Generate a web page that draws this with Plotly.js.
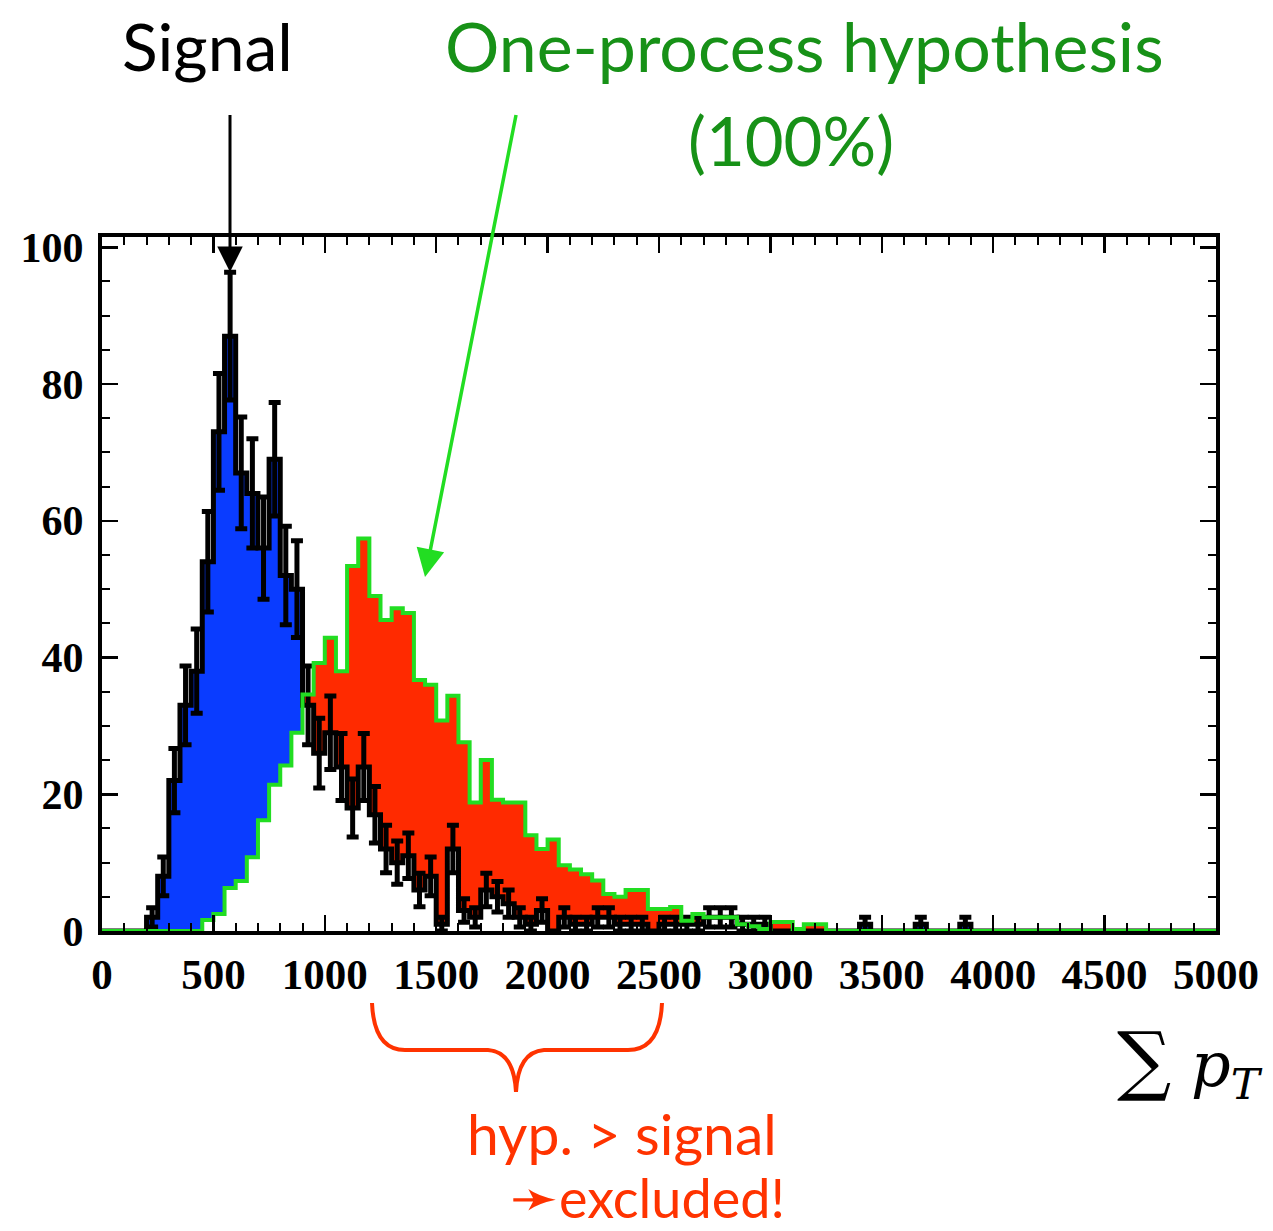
<!DOCTYPE html>
<html>
<head>
<meta charset="utf-8">
<script src="https://cdn.plot.ly/plotly-3.0.1.min.js"></script>
<style>html,body{margin:0;padding:0;background:#fff;}#chart{width:1273px;height:1231px;}</style>
</head>
<body>
<div id="chart"></div>
<script>
// Bin edges: 100 bins of width 50 from 0 to 5000
const binWidth = 50;
const nBins = 100;

// Signal histogram (black, with sqrt(N) error bars), bins 0..99
const signalCounts = [
  0, 0, 0, 0, 2, 8, 22, 33, 38, 54,
  73, 87, 67, 64, 56, 69, 52, 50, 33, 26,
  29, 24, 18, 24, 17, 12, 10, 11, 6, 8,
  1, 12, 3, 2, 6, 5, 4, 2, 1, 3,
  0, 2, 1, 1, 2, 2, 1, 1, 1, 0,
  1, 1, 1, 1, 2, 2, 2, 1, 1, 1,
  0, 0, 0, 0, 0, 0, 0, 0, 1, 0,
  0, 0, 0, 1, 0, 0, 0, 1, 0, 0,
  0, 0, 0, 0, 0, 0, 0, 0, 0, 0,
  0, 0, 0, 0, 0, 0, 0, 0, 0, 0
];

// One-process hypothesis histogram (green outline), bins 0..99
const hypothesisCounts = [
  0, 0, 0, 0, 0, 0, 0, 0, 0, 1.6,
  2.5, 6.3, 7.3, 10.8, 16.2, 21.4, 24.2, 29, 34.6, 39.2,
  42.9, 38, 53.4, 57.4, 49, 45.5, 47.2, 46.5, 36.7, 36,
  30.8, 34.4, 27.6, 18.8, 25, 19.2, 18.8, 18.8, 14, 12,
  13.4, 9.6, 9, 8.3, 7.4, 5.4, 5, 6, 6, 3.2,
  3.2, 3.5, 1.5, 2.5, 2, 2, 2, 1, 0.7, 0.3,
  1.3, 1.3, 0.3, 1, 1, 0, 0, 0, 0, 0,
  0, 0, 0, 0, 0, 0, 0, 0, 0, 0,
  0, 0, 0, 0, 0, 0, 0, 0, 0, 0,
  0, 0, 0, 0, 0, 0, 0, 0, 0, 0
];

const xTickVals = [0, 500, 1000, 1500, 2000, 2500, 3000, 3500, 4000, 4500, 5000];
const yTickVals = [0, 20, 40, 60, 80, 100];

// ---- build step arrays from the histograms ----
const edges = [];
for (let i = 0; i <= nBins; i++) edges.push(i * binWidth);
function stepY(arr) { return arr.concat([arr[arr.length - 1]]); }
const sStep = stepY(signalCounts);
const hStep = stepY(hypothesisCounts);
const maxStep = sStep.map((v, i) => Math.max(v, hStep[i]));

const centers = [], errVals = [];
signalCounts.forEach((v, i) => { if (v > 0) { centers.push(i * binWidth + binWidth / 2); errVals.push(v); } });

const BLUE = '#0a3cff', RED = '#ff2a00', GREEN = '#22dd22', BLACK = '#000000';

const traces = [
  {x: edges, y: hStep, mode: 'lines', line: {shape: 'hv', width: 0, color: GREEN}, hoverinfo: 'skip'},
  {x: edges, y: maxStep, mode: 'lines', line: {shape: 'hv', width: 0, color: BLUE}, fill: 'tonexty', fillcolor: BLUE, hoverinfo: 'skip'},
  {x: edges, y: sStep, mode: 'lines', line: {shape: 'hv', width: 0, color: BLACK}, hoverinfo: 'skip'},
  {x: edges, y: maxStep, mode: 'lines', line: {shape: 'hv', width: 0, color: RED}, fill: 'tonexty', fillcolor: RED, hoverinfo: 'skip'},
  {x: edges, y: sStep, mode: 'lines', line: {shape: 'hv', width: 5, color: BLACK}, hoverinfo: 'skip'},
  {x: centers, y: errVals, mode: 'markers', marker: {size: 1, color: BLACK},
   error_y: {type: 'sqrt', visible: true, color: BLACK, thickness: 5, width: 6}, hoverinfo: 'skip'},
  {x: edges, y: hStep, mode: 'lines', line: {shape: 'hv', width: 4, color: GREEN}, hoverinfo: 'skip'}
];

// plot area in pixels
const L = 102, R = 1216, T = 237, B = 931;
const W = 1273, H = 1231;
function px(x) { return (x - L) / (R - L); }
function py(y) { return (B - y) / (B - T); }
function P(x, y) { return px(x).toFixed(5) + ',' + py(y).toFixed(5); }

const bracePath = 'M ' + P(372, 1003) + ' Q ' + P(374, 1050) + ' ' + P(405, 1050) +
  ' L ' + P(488, 1050) + ' Q ' + P(514, 1052) + ' ' + P(516, 1092) +
  ' Q ' + P(518, 1052) + ' ' + P(544, 1050) + ' L ' + P(628, 1050) +
  ' Q ' + P(660, 1050) + ' ' + P(662, 1003);

const sansFont = 'Lato, "Open Sans", sans-serif';
const serifFont = '"Liberation Serif", "Times New Roman", serif';

const layout = {
  width: W, height: H,
  margin: {l: L, r: W - R, t: T, b: H - B, pad: 0},
  paper_bgcolor: '#ffffff', plot_bgcolor: '#ffffff',
  showlegend: false,
  xaxis: {
    range: [0, 5000], tickvals: xTickVals, ticktext: xTickVals.map(String),
    ticks: 'inside', ticklen: 16, tickwidth: 2.5, tickcolor: BLACK,
    showline: true, linewidth: 4, linecolor: BLACK, mirror: 'ticks',
    showgrid: false, zeroline: false,
    minor: {dtick: 100, tick0: 0, ticks: 'inside', ticklen: 8, tickwidth: 2, tickcolor: BLACK, showgrid: false},
    tickfont: {family: serifFont, size: 43, color: BLACK, weight: 'bold'},
    ticklabelstandoff: 2
  },
  yaxis: {
    range: [0, 101.5], tickvals: yTickVals, ticktext: yTickVals.map(String),
    ticks: 'inside', ticklen: 16, tickwidth: 2.5, tickcolor: BLACK,
    showline: true, linewidth: 4, linecolor: BLACK, mirror: 'ticks',
    showgrid: false, zeroline: false,
    minor: {dtick: 5, tick0: 0, ticks: 'inside', ticklen: 8, tickwidth: 2, tickcolor: BLACK, showgrid: false},
    tickfont: {family: serifFont, size: 42, color: BLACK, weight: 'bold'},
    ticklabelstandoff: 6
  },
  shapes: [
    {type: 'path', xref: 'paper', yref: 'paper', path: bracePath, line: {color: '#ff3300', width: 4}}
  ],
  annotations: [
    {xref: 'paper', yref: 'paper', x: px(207), y: py(45), xanchor: 'center', yanchor: 'middle', showarrow: false,
     text: 'Signal', font: {family: sansFont, size: 66, color: BLACK}},
    {xref: 'paper', yref: 'paper', x: px(804), y: py(45), xanchor: 'center', yanchor: 'middle', showarrow: false,
     text: 'One-process hypothesis', font: {family: sansFont, size: 68, color: '#179117'}},
    {xref: 'paper', yref: 'paper', x: px(791), y: py(140), xanchor: 'center', yanchor: 'middle', showarrow: false,
     text: '(100%)', font: {family: sansFont, size: 67, color: '#179117'}},
    {xref: 'paper', yref: 'paper', x: px(230), y: py(272), showarrow: true, ax: 0, ay: -167, text: ' ',
     arrowcolor: BLACK, arrowwidth: 3, arrowhead: 2, arrowsize: 1.7, standoff: 0},
    {xref: 'paper', yref: 'paper', x: px(425), y: py(577), showarrow: true, ax: 93, ay: -472, text: ' ',
     arrowcolor: GREEN, arrowwidth: 3.5, arrowhead: 2, arrowsize: 1.6, standoff: 0},
    {xref: 'paper', yref: 'paper', x: px(622), y: py(1133), xanchor: 'center', yanchor: 'middle', showarrow: false,
     text: 'hyp. &gt; signal', font: {family: sansFont, size: 57, color: '#ff3300'}},
    {xref: 'paper', yref: 'paper', x: px(647), y: py(1195), xanchor: 'center', yanchor: 'middle', showarrow: false,
     text: '<span style="font-size:58px">➛</span>excluded!', font: {family: sansFont, size: 54, color: '#ff3300'}},
    {xref: 'paper', yref: 'paper', x: px(1190), y: py(1062), xanchor: 'center', yanchor: 'middle', showarrow: false,
     text: '<span style="font-size:76px">∑</span> <i>p</i><sub><i>T</i></sub>', font: {family: '"DejaVu Serif", "Liberation Serif", serif', size: 62, color: BLACK}}
  ]
};

Plotly.newPlot('chart', traces, layout, {staticPlot: true, displayModeBar: false});
</script>
</body>
</html>
